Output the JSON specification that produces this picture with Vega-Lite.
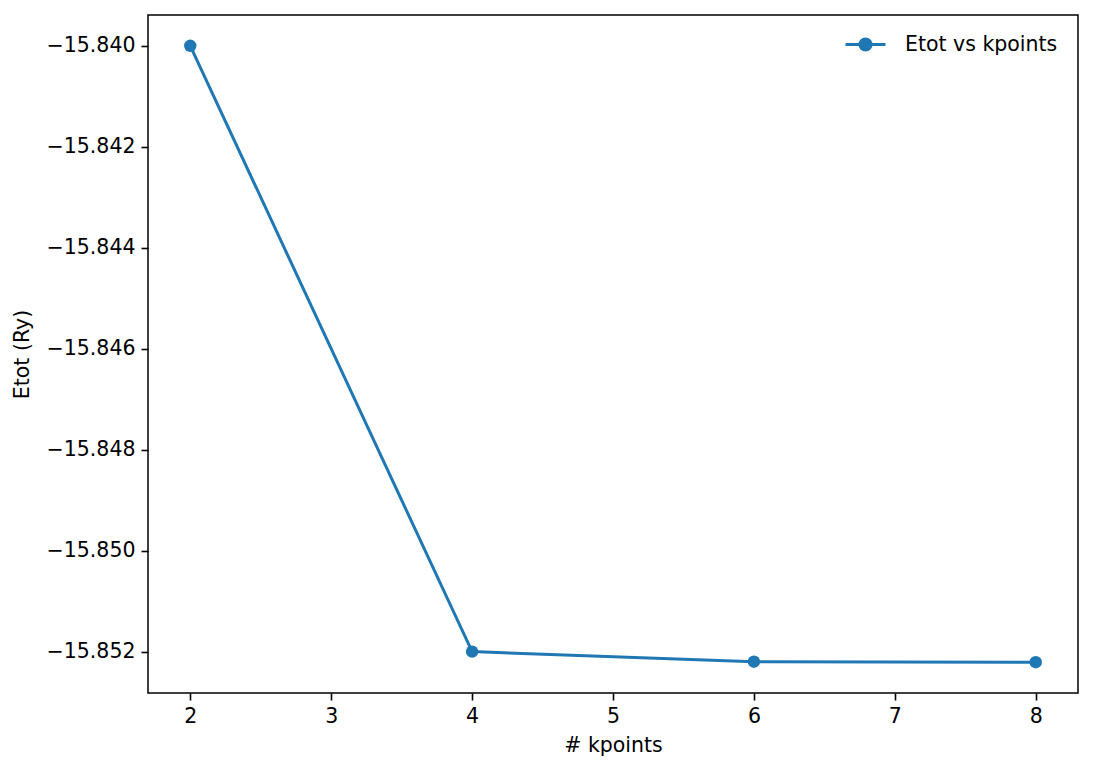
{
  "$schema": "https://vega.github.io/schema/vega-lite/v6.json",
  "width": 930,
  "height": 678,
  "autosize": {"type": "none"},
  "padding": {"left": 148, "top": 15, "right": 15, "bottom": 79},
  "background": "white",
  "config": {
    "font": "DejaVu Sans",
    "view": {"stroke": "black", "strokeWidth": 1.5},
    "axis": {
      "domain": false,
      "grid": false,
      "ticks": true,
      "tickColor": "black",
      "tickWidth": 1.6,
      "tickSize": 7,
      "labelPadding": 6,
      "labelFont": "DejaVu Sans",
      "labelFontSize": 20.5,
      "labelColor": "black",
      "titleFont": "DejaVu Sans",
      "titleFontSize": 20.5,
      "titleFontWeight": "normal",
      "titleColor": "black"
    }
  },
  "data": {
    "values": [
      {"kpoints": 2, "etot": -15.84, "series": "Etot vs kpoints"},
      {"kpoints": 4, "etot": -15.852, "series": "Etot vs kpoints"},
      {"kpoints": 6, "etot": -15.8522, "series": "Etot vs kpoints"},
      {"kpoints": 8, "etot": -15.85221, "series": "Etot vs kpoints"}
    ]
  },
  "mark": {
    "type": "line",
    "strokeWidth": 3,
    "point": {"filled": true, "size": 155, "opacity": 1}
  },
  "encoding": {
    "x": {
      "field": "kpoints",
      "type": "quantitative",
      "scale": {"domain": [1.7, 8.3], "nice": false, "zero": false},
      "axis": {"values": [2, 3, 4, 5, 6, 7, 8], "format": "d", "title": "# kpoints", "titlePadding": 9}
    },
    "y": {
      "field": "etot",
      "type": "quantitative",
      "scale": {"domain": [-15.85282, -15.83939], "nice": false, "zero": false},
      "axis": {
        "values": [-15.852, -15.85, -15.848, -15.846, -15.844, -15.842, -15.84],
        "labelExpr": "replace(format(datum.value, '.3f'), '-', '\u2212')",
        "title": "Etot (Ry)",
        "titlePadding": 14
      }
    },
    "color": {
      "field": "series",
      "type": "nominal",
      "scale": {"range": ["#1f77b4"]},
      "legend": {
        "title": null,
        "orient": "none",
        "legendX": 696,
        "legendY": 8,
        "labelFontSize": 20.5,
        "labelFont": "DejaVu Sans",
        "labelColor": "black",
        "symbolType": "M-1,0L1,0M-0.28,0A0.28,0.28 0 1,0 0.28,0A0.28,0.28 0 1,0 -0.28,0",
        "symbolSize": 1600,
        "symbolStrokeWidth": 3,
        "symbolFillColor": "#1f77b4",
        "symbolStrokeColor": "#1f77b4",
        "symbolOpacity": 1,
        "labelOffset": 18
      }
    }
  }
}
